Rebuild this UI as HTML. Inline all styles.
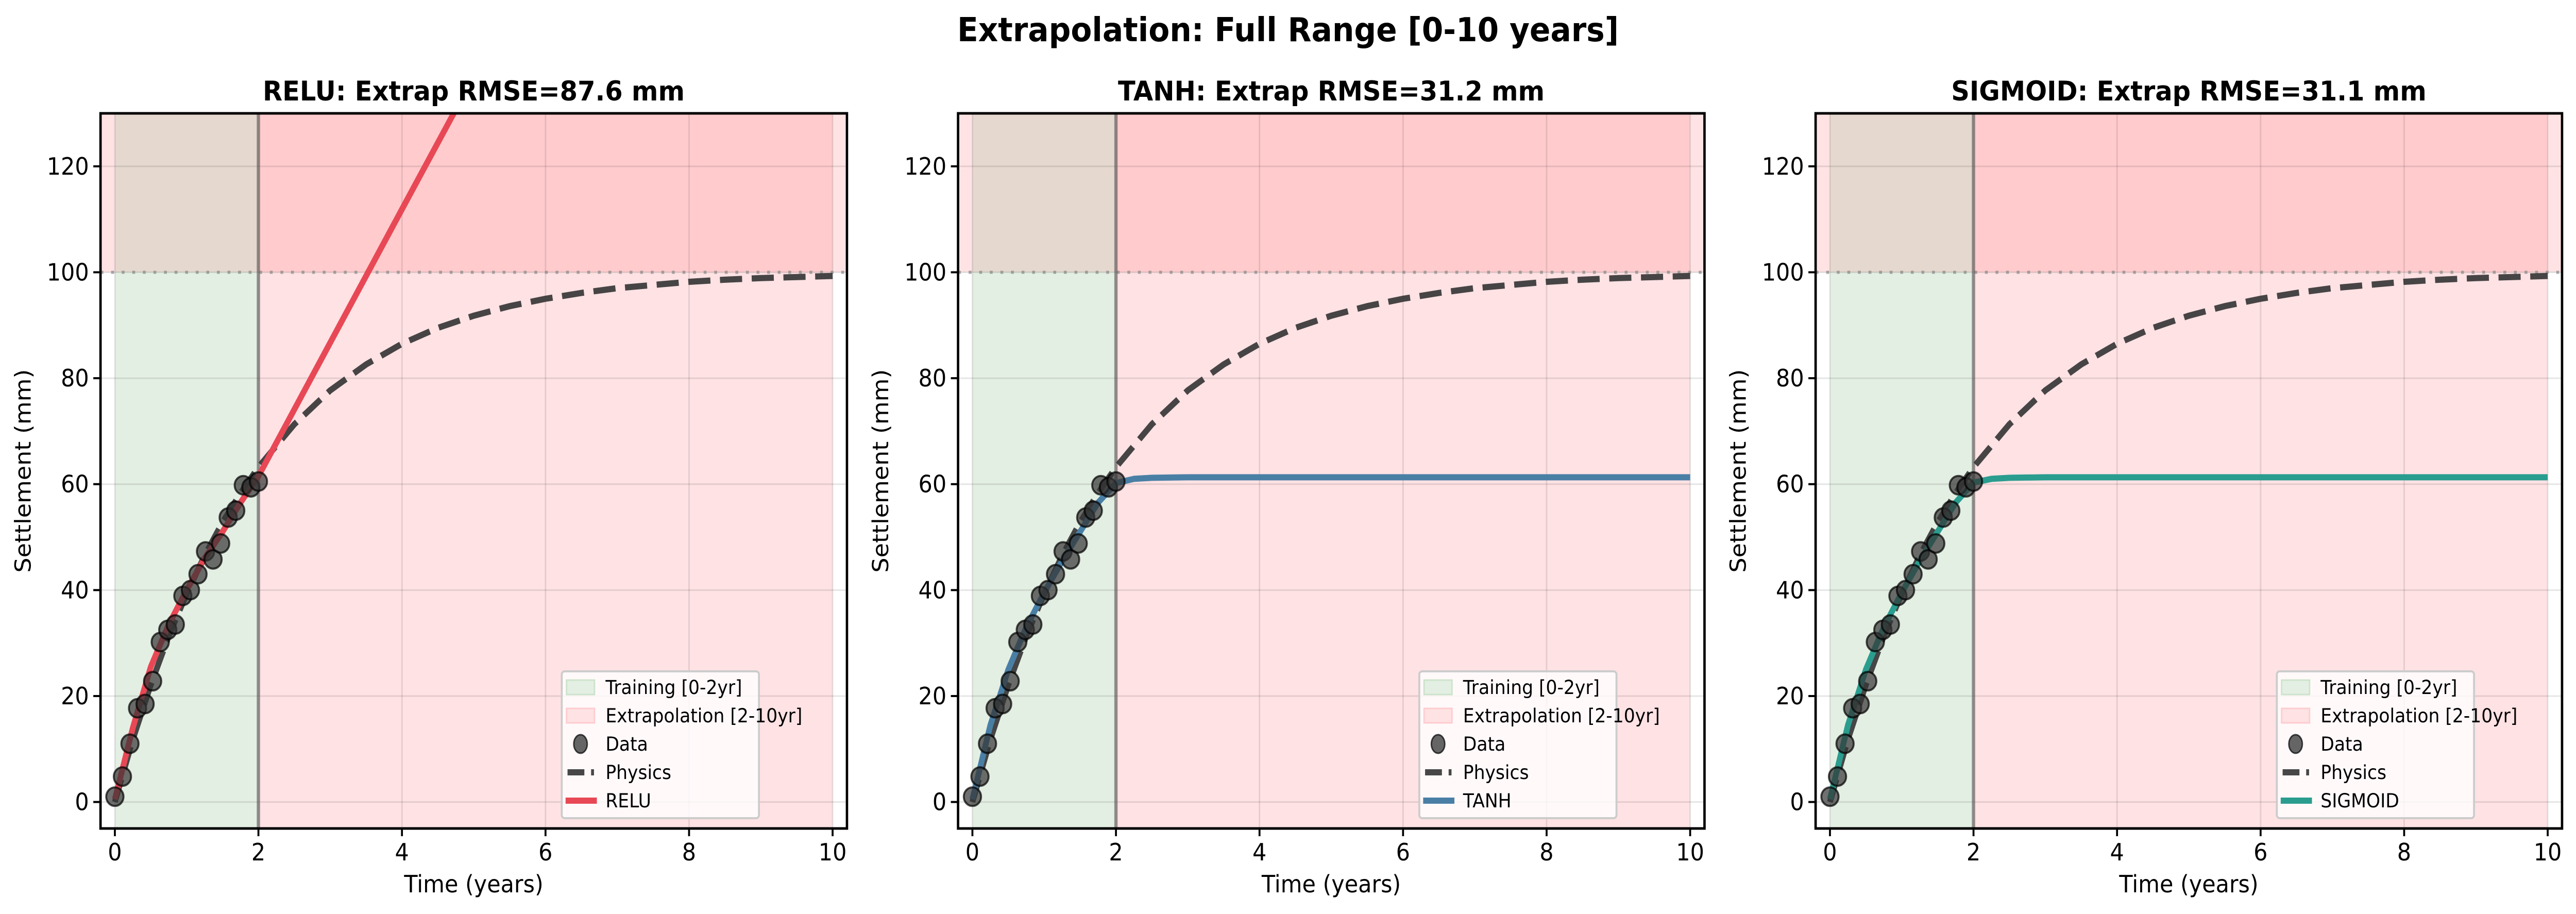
<!DOCTYPE html>
<html><head><meta charset="utf-8"><style>
html,body{margin:0;padding:0;background:#fff;overflow:hidden;width:100%;height:100%}
#fig{display:block;width:100vw;height:100vh}
svg text{font-family:"DejaVu Sans","Liberation Sans",sans-serif}
</style></head><body>
<svg id="fig" viewBox="0 0 5356 1774" preserveAspectRatio="none" xmlns="http://www.w3.org/2000/svg">
<rect width="5356" height="1774" fill="#fff"/>
<text x="2678" y="80" font-size="64" font-weight="bold" text-anchor="middle">Extrapolation: Full Range [0-10 years]</text>
</svg>
<script>
const dataT = [0,0.105,0.21,0.316,0.421,0.526,0.632,0.737,0.842,0.947,1.053,1.158,1.263,1.368,1.474,1.579,1.684,1.789,1.895,2.0];
const dataY = [1.0,4.8,11.0,17.7,18.5,22.8,30.2,32.5,33.5,38.9,40.0,43.0,47.3,45.8,48.8,53.7,55.0,59.8,59.4,60.5];
const modelT = [0,0.25,0.5,0.75,1,1.25,1.5,1.75,2,2.25,2.5,3,4,5,6,7,8,9,10];
const reluY = [0.5,14,25.5,33.5,40,46,51,56.5,61.5,67.8,74.1,86.7,111.9,137,162,187,212,237,262];
const tanhY = [0.5,14.5,25,33,39.5,45.5,51,56.5,60.2,61.0,61.2,61.3,61.3,61.3,61.3,61.3,61.3,61.3,61.3];
const sigmoidY = [0.5,14.5,25,33,39.5,45.5,51,56.5,60.3,61.0,61.2,61.3,61.3,61.3,61.3,61.3,61.3,61.3,61.3];
const physicsT = [0,0.25,0.5,0.75,1,1.25,1.5,1.75,2,2.5,3,3.5,4,4.5,5,5.5,6,6.5,7,7.5,8,8.5,9,9.5,10];
const physicsY = [0,11.8,22.1,31.3,39.3,46.5,52.8,58.3,63.2,71.3,77.7,82.6,86.5,89.5,91.8,93.6,95.0,96.1,97.0,97.6,98.2,98.6,98.9,99.1,99.3];
const xTicks = [0,2,4,6,8,10];
const yTicks = [0,20,40,60,80,100,120];
const panelNames = ['relu','tanh','sigmoid'];
const panelLabels = ['RELU','TANH','SIGMOID'];
const panelRmse = ['87.6','31.2','31.1'];
const panelColors = ['#e84855','#4a7fa5','#2a9d8f'];
const panelModels = [reluY, tanhY, sigmoidY];

const NS='http://www.w3.org/2000/svg';
const svg=document.getElementById('fig');
function mk(tag,attrs,parent){const e=document.createElementNS(NS,tag);for(const k in attrs)e.setAttribute(k,attrs[k]);(parent||svg).appendChild(e);return e;}

panelNames.forEach((nm,i)=>{
  const L=209+1783*i, R=L+1552, T=220, B=1608;
  const xmin=-0.2,xmax=10.2,ymin=-5,ymax=130;
  const sx=v=>L+(v-xmin)/(xmax-xmin)*(R-L);
  const sy=v=>B-(v-ymin)/(ymax-ymin)*(B-T);
  const g=mk('g',{});
  
  
  const cid='clip'+i;
  const cp=mk('clipPath',{id:cid},g); mk('rect',{x:L,y:T,width:R-L,height:B-T},cp);
  const pg=mk('g',{'clip-path':'url(#'+cid+')'},g);
  const tr=mk('rect',{x:sx(0),y:T,width:sx(2)-sx(0),height:B-T,fill:'#e4efe3'},pg);
  
  
  const ex=mk('rect',{x:sx(2),y:T,width:sx(10)-sx(2),height:B-T,fill:'#fee2e4'},pg);
  
  
  mk('rect',{x:L,y:T,width:sx(0)-L,height:sy(100)-T,fill:'#ffe3e4'},pg);
  mk('rect',{x:sx(10),y:T,width:R-sx(10),height:sy(100)-T,fill:'#ffe3e4'},pg);
  mk('rect',{x:sx(0),y:T,width:sx(2)-sx(0),height:sy(100)-T,fill:'#e5d8ce'},pg);
  mk('rect',{x:sx(2),y:T,width:sx(10)-sx(2),height:sy(100)-T,fill:'#ffcbcd'},pg);
  xTicks.forEach(v=>mk('line',{x1:sx(v),x2:sx(v),y1:T,y2:B,stroke:'#000','stroke-opacity':0.1,'stroke-width':3},pg));
  yTicks.forEach(v=>mk('line',{x1:L,x2:R,y1:sy(v),y2:sy(v),stroke:'#000','stroke-opacity':0.1,'stroke-width':3},pg));
  mk('line',{x1:L,x2:R,y1:sy(100),y2:sy(100),stroke:'#888','stroke-opacity':0.7,'stroke-width':6,'stroke-dasharray':'6 16'},pg);
  mk('line',{x1:sx(2),x2:sx(2),y1:T,y2:B,stroke:'#555','stroke-opacity':0.6,'stroke-width':7},pg);
  const pp=mk('path',{d:physicsT.map((t,k)=>(k?'L':'M')+sx(t)+' '+sy(physicsY[k])).join(''),fill:'none',stroke:'#333','stroke-opacity':0.9,'stroke-width':12,'stroke-dasharray':'46 20'},pg);
  
  
  const my=panelModels[i];
  const ml=mk('path',{d:modelT.map((t,k)=>(k?'L':'M')+sx(t)+' '+sy(my[k])).join(''),fill:'none',stroke:panelColors[i],'stroke-width':12,'stroke-linejoin':'round'},pg);
  
  
  dataT.forEach((t,k)=>{
    const c=mk('circle',{cx:sx(t),cy:sy(dataY[k]),r:18,fill:'#333','fill-opacity':0.7,stroke:'#000','stroke-opacity':0.7,'stroke-width':4},pg);
    
    
  });
  mk('rect',{x:L,y:T,width:R-L,height:B-T,fill:'none',stroke:'#000','stroke-width':5},g);
  xTicks.forEach(v=>{
    mk('line',{x1:sx(v),x2:sx(v),y1:B,y2:B+15,stroke:'#000','stroke-width':4},g);
    const tx=mk('text',{x:sx(v),y:B+62,'font-size':46,'text-anchor':'middle'},g);tx.textContent=v;
    
    
  });
  yTicks.forEach(v=>{
    mk('line',{x1:L-15,x2:L,y1:sy(v),y2:sy(v),stroke:'#000','stroke-width':4},g);
    const tx=mk('text',{x:L-24,y:sy(v)+16,'font-size':46,'text-anchor':'end'},g);tx.textContent=v;
    
    
  });
  const xl=mk('text',{x:(L+R)/2,y:1732,'font-size':46,'text-anchor':'middle'},g);xl.textContent='Time (years)';
  
  
  const yl=mk('text',{x:0,y:0,'font-size':46,'text-anchor':'middle',transform:'translate('+(L-145)+','+((T+B)/2)+') rotate(-90)'},g);yl.textContent='Settlement (mm)';
  
  
  const tt=mk('text',{x:(L+R)/2,y:195,'font-size':53,'font-weight':'bold','text-anchor':'middle'},g);tt.textContent=panelLabels[i]+': Extrap RMSE='+panelRmse[i]+' mm';
  
  
  const lg=mk('g',{},g);
  
  
  const lx=L+959, ly=1303;
  mk('rect',{x:lx,y:ly,width:410,height:285,rx:6,fill:'#fff','fill-opacity':0.8,stroke:'#ccc','stroke-width':4},lg);
  const rows=[['Training [0-2yr]'],['Extrapolation [2-10yr]'],['Data'],['Physics'],[panelLabels[i]]];
  rows.forEach((r,k)=>{
    const cy=1334+k*55;
    if(k===0)mk('rect',{x:lx+10,y:cy-14,width:58,height:28,fill:'#e4efe3',stroke:'#cde3cb','stroke-width':3},lg);
    if(k===1)mk('rect',{x:lx+10,y:cy-14,width:58,height:28,fill:'#fee2e4',stroke:'#ffcccf','stroke-width':3},lg);
    if(k===2)mk('ellipse',{cx:lx+39,cy:cy,rx:14,ry:18,fill:'#333','fill-opacity':0.75,stroke:'#000','stroke-opacity':0.7,'stroke-width':3},lg);
    if(k===3){mk('rect',{x:lx+12,y:cy-6,width:35,height:12,fill:'#333','fill-opacity':0.9},lg);mk('rect',{x:lx+61,y:cy-6,width:6,height:12,fill:'#333','fill-opacity':0.9},lg);}
    if(k===4)mk('rect',{x:lx+8,y:cy-6,width:65,height:12,fill:panelColors[i]},lg);
    const t=mk('text',{x:lx+91,y:cy+13,'font-size':37},lg);t.textContent=r[0];
    
    
  });
});
</script>
</body></html>
